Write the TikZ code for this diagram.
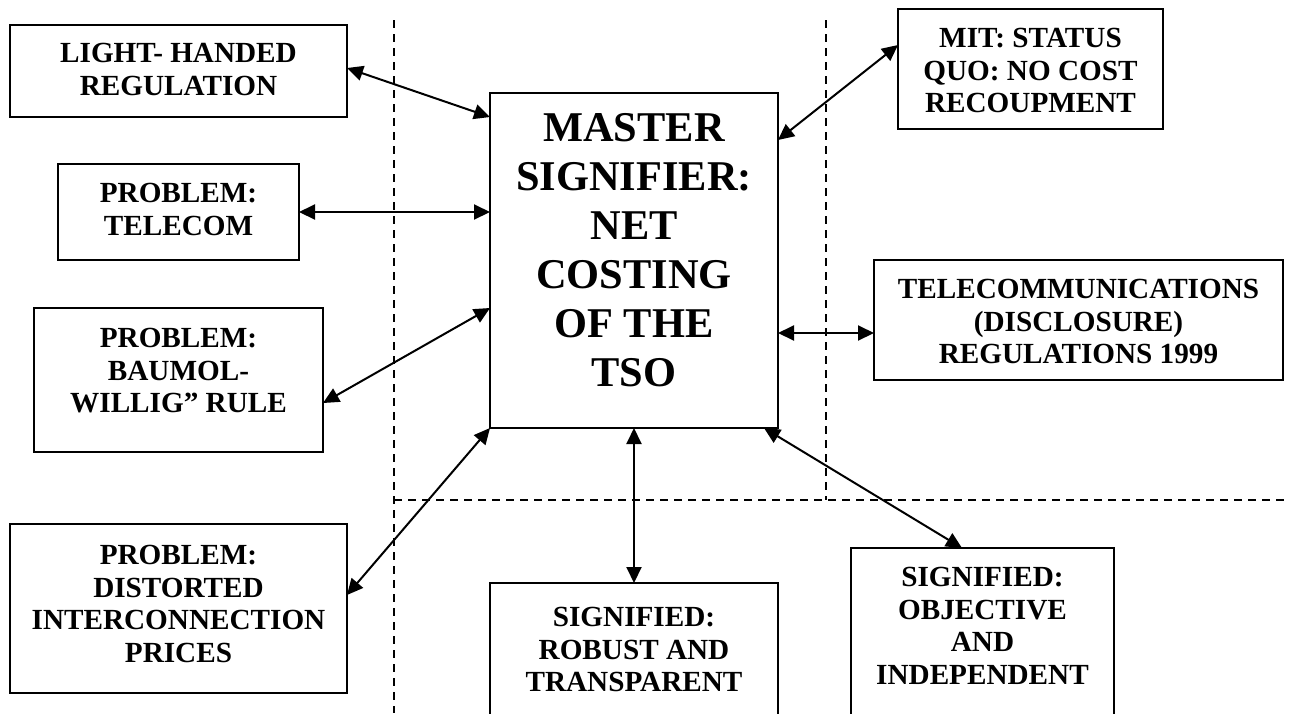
\documentclass[tikz,border=0pt]{standalone}
\usepackage{fontspec}
\setmainfont{Liberation Serif}
\usetikzlibrary{arrows.meta,calc}
\begin{document}
\begin{tikzpicture}[x=0.5pt,y=-0.5pt,
  box/.style={draw,line width=1pt,inner sep=0pt,outer sep=0pt},
  txt/.style={inner sep=0pt,anchor=north,align=center,font=\fontsize{14.6}{16.3}\selectfont\bfseries},
  mtxt/.style={inner sep=0pt,anchor=north,align=center,font=\fontsize{21.2}{24.5}\selectfont\bfseries},
  link/.style={line width=1pt,{Triangle[length=8pt,width=7.5pt]}-{Triangle[length=8pt,width=7.5pt]}},
  sep/.style={line width=0.8pt,dash pattern=on 4pt off 3pt}]
\clip (0,0) rectangle (1290,713);
\fill[white] (0,0) rectangle (1290,713);

% separators
\draw[sep] (394,20) -- (394,713);
\draw[sep] (826,20) -- (826,500);
\draw[sep] (394,500) -- (1290,500);

% boxes
\node[box,minimum width=168.5pt,minimum height=46pt] (light) at (178.5,71) {};
\node[box,minimum width=120.5pt,minimum height=48pt] (tel) at (178.5,212) {};
\node[box,minimum width=144.5pt,minimum height=72pt] (baumol) at (178.5,380) {};
\node[box,minimum width=168.5pt,minimum height=84.5pt] (distorted) at (178.5,608.5) {};
\node[box,minimum width=144pt,minimum height=167.5pt] (master) at (634,260.5) {};
\node[box,minimum width=132.5pt,minimum height=60pt] (mit) at (1030.5,69) {};
\node[box,minimum width=204.5pt,minimum height=60pt] (telecomm) at (1078.5,320) {};
\node[box,minimum width=144pt,minimum height=88.5pt] (robust) at (634,671.5) {};
\node[box,minimum width=131.5pt,minimum height=106pt] (objective) at (982.5,654) {};

% texts
\node[txt] (lightT) at (178.5,43) {LIGHT- HANDED\\REGULATION};
\node[txt] (telT) at (178.5,183) {PROBLEM:\\TELECOM};
\node[txt] (baumolT) at (178.5,328) {PROBLEM:\\BAUMOL-\\WILLIG” RULE};
\node[txt] (distortedT) at (178.5,545) {PROBLEM:\\DISTORTED\\INTERCONNECTION\\PRICES};
\node[mtxt] (masterT) at (634,113) {MASTER\\SIGNIFIER:\\NET\\COSTING\\OF THE\\TSO};
\node[txt] (mitT) at (1030.5,28) {MIT: STATUS\\QUO: NO COST\\RECOUPMENT};
\node[txt] (telecommT) at (1078.5,279) {TELECOMMUNICATIONS\\(DISCLOSURE)\\REGULATIONS 1999};
\node[txt] (robustT) at (634,607) {SIGNIFIED:\\ROBUST AND\\TRANSPARENT};
\node[txt] (objectiveT) at (982.5,567) {SIGNIFIED:\\OBJECTIVE\\AND\\INDEPENDENT};

% connectors
\draw[link] ([yshift=1.5pt]light.east) -- ([yshift=-12pt]master.north west);
\draw[link] (tel.east) -- (tel.east -| master.west);
\draw[link] ([yshift=-11.5pt]baumol.east) -- ([yshift=-107.5pt]master.north west);
\draw[link] ([yshift=6.75pt]distorted.east) -- (master.south west);
\draw[link] (master.south) -- (robust.north);
\draw[link] ([xshift=-7pt]master.south east) -- ([xshift=-10.25pt]objective.north);
\draw[link] ([yshift=-23.5pt]master.north east) -- ([yshift=12pt]mit.west);
\coordinate (th) at ([yshift=-6.5pt]telecomm.west);
\draw[link] (th -| master.east) -- (th);
\end{tikzpicture}
\end{document}
